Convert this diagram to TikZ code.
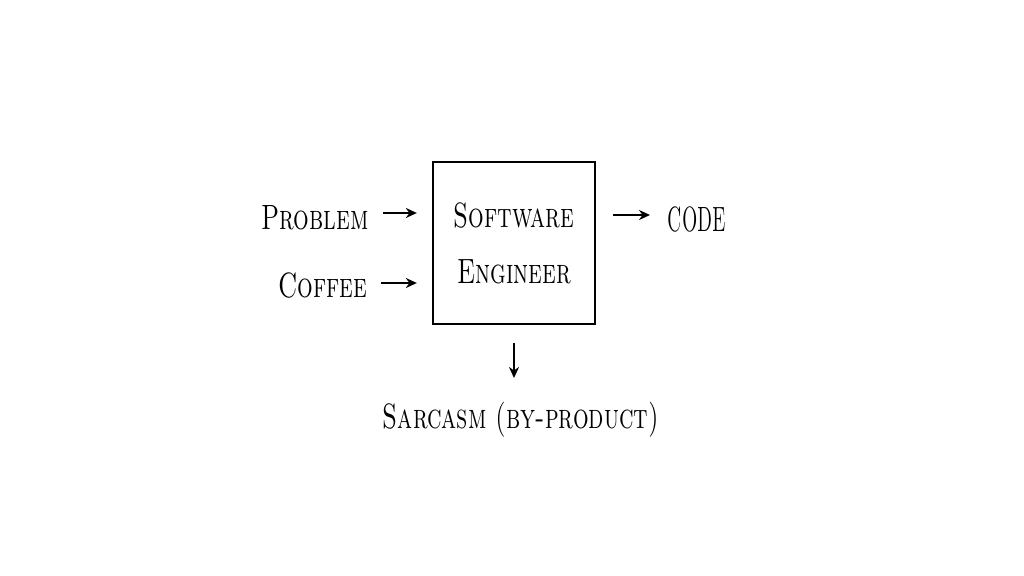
\documentclass[tikz,border=0pt]{standalone}
\usepackage{graphicx}
\usepackage{tikz}
\usetikzlibrary{arrows.meta, positioning}

\newcommand{\slim}[2][0.7]{\scalebox{#1}[1]{#2}}

\begin{document}
\begin{tikzpicture}[auto, >={Stealth[length=2.2mm, width=2mm]}, line width=1.1pt]
        % Estilos
        \tikzstyle{block} = [draw, rectangle, line width=1.3pt, minimum width=3.24cm, minimum height=3.24cm, align=center, font=\fontsize{20}{32}\selectfont\scshape]
        \tikzstyle{word} = [font=\fontsize{20}{24}\selectfont\scshape, inner sep=0pt]

        \useasboundingbox (0,0) rectangle (20.48,-11.52);

        % Nodes
        \node [block] at (10.28,-4.86) (engineer) {\slim{Software}\\\slim{Engineer}};
        \node [word, on grid, above left=0.5cm and 3.98cm of engineer] (problem) {\slim{Problem}};
        \node [word, on grid, below left=0.84cm and 3.82cm of engineer] (coffee) {\slim{Coffee}};
        \node [word, on grid, above right=0.48cm and 3.66cm of engineer] (code) {\slim[0.52]{CODE}};
        \node [word, on grid, below right=3.54cm and 0.14cm of engineer] (sarcasm) {\slim{Sarcasm (by-product)}};
        \node [coordinate, on grid, above left=0.6cm and 2.62cm of engineer] (problemTail){};
        \node [coordinate, on grid, below left=0.8cm and 2.66cm of engineer] (coffeeTail){};
        \node [coordinate, on grid, above right=0.56cm and 2.72cm of engineer] (codeHead){};
        \node [coordinate, on grid, below=2.7cm of engineer] (sarcasmHead){};

        % Lines
        \draw [->, shorten >=0.3cm] (problemTail) -- (problemTail -| engineer.west);
        \draw [->, shorten >=0.3cm] (coffeeTail) -- (coffeeTail -| engineer.west);
        \draw [->, shorten <=0.34cm] (codeHead -| engineer.east) -- (codeHead);
        \draw [->, shorten <=0.36cm] (engineer.south) -- (sarcasmHead);

\end{tikzpicture}
\end{document}
